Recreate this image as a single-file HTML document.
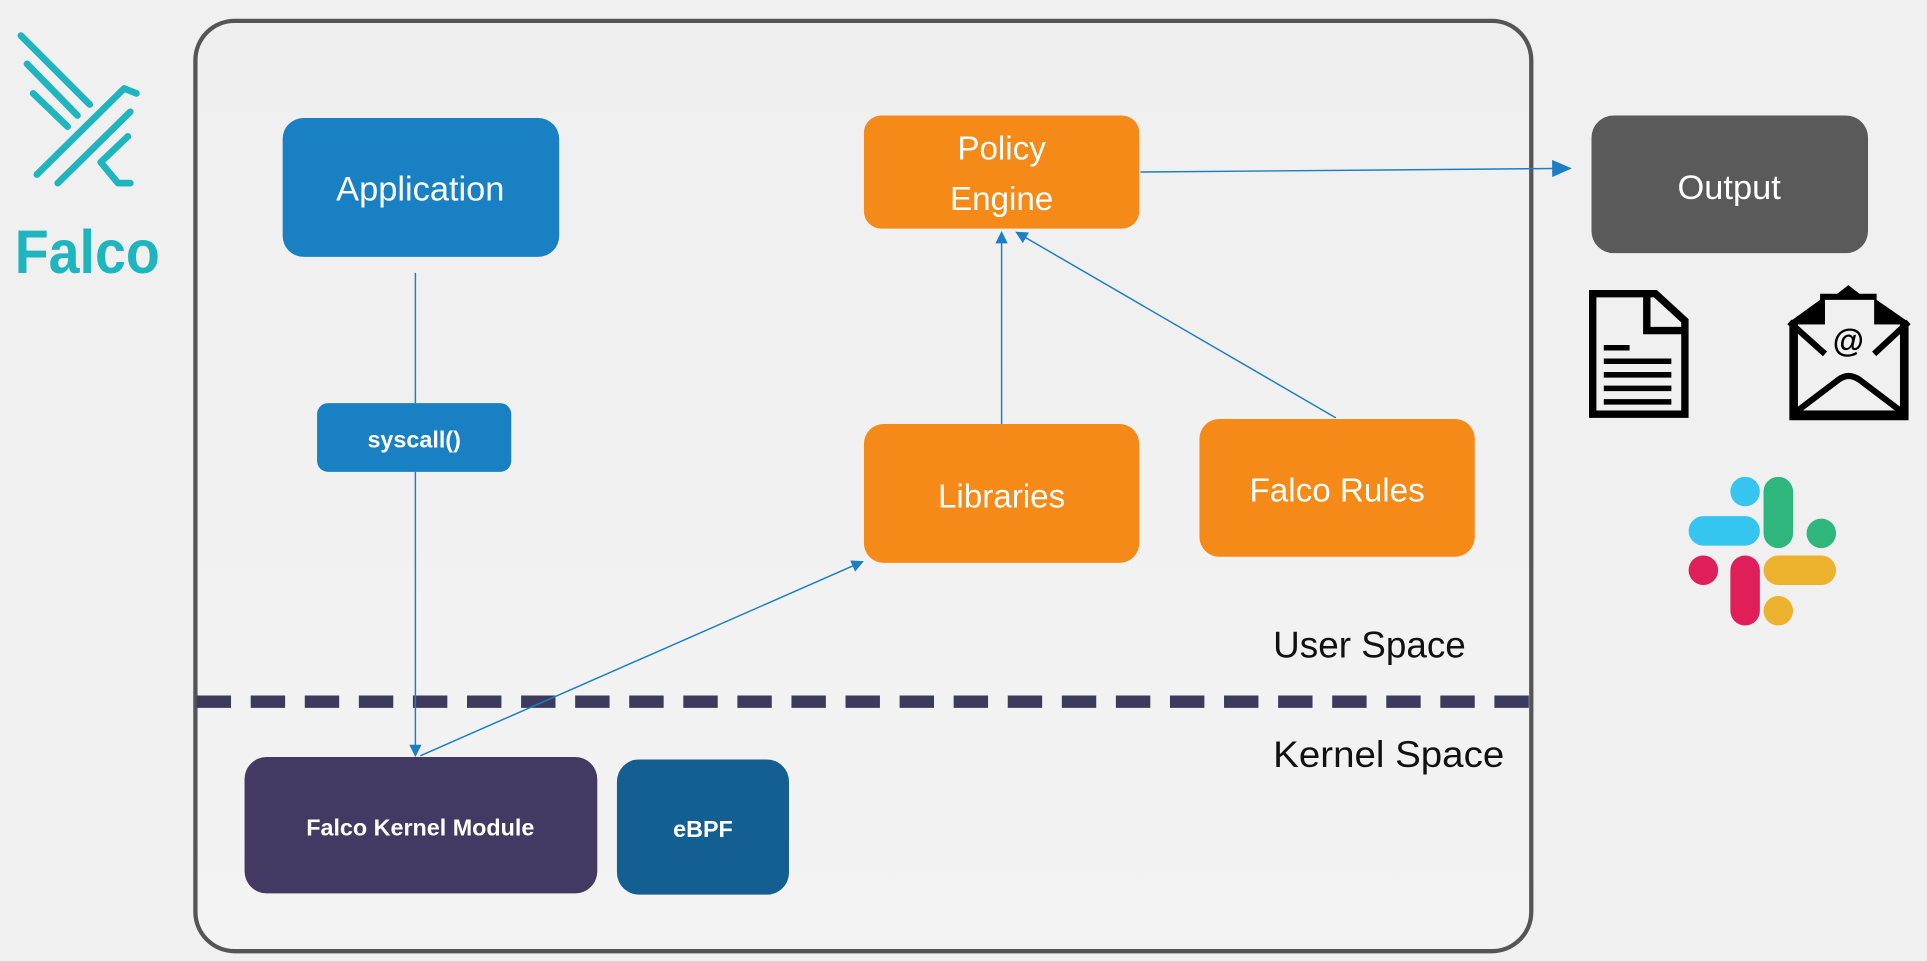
<!DOCTYPE html>
<html><head><meta charset="utf-8"><style>
html,body{margin:0;padding:0;background:#f0f0f0;}
svg{display:block;}
text{font-family:"Liberation Sans",sans-serif;}
</style></head><body>
<svg width="1927" height="961" viewBox="0 0 1568 782" preserveAspectRatio="none" xmlns="http://www.w3.org/2000/svg">
<defs>
<linearGradient id="bg" x1="0" y1="0" x2="0" y2="1"><stop offset="0" stop-color="#efefef"/><stop offset="1" stop-color="#f3f3f3"/></linearGradient>
<marker id="ah" markerWidth="10" markerHeight="10" refX="9" refY="5" orient="auto" markerUnits="userSpaceOnUse"><path d="M0,0 L10,5 L0,10 z" fill="#1a7fc4"/></marker>
<marker id="ah2" markerWidth="16" markerHeight="14" refX="15" refY="7" orient="auto" markerUnits="userSpaceOnUse"><path d="M0,0 L16,7 L0,14 z" fill="#1a7fc4"/></marker>
</defs>
<rect width="1568" height="782" fill="#f0f0f0"/>
<!-- Falco logo -->
<g stroke="#1fb5bf" stroke-width="5.5" stroke-linecap="round" stroke-linejoin="round" fill="none">
<line x1="17" y1="29" x2="73" y2="85"/>
<line x1="22" y1="52" x2="63" y2="94"/>
<line x1="27" y1="76" x2="55" y2="103"/>
<path d="M30,142 L101,72 L111,76"/>
<line x1="47" y1="149" x2="106" y2="91"/>
<path d="M104,111 L82,132 L96,149 L106,149"/>
</g>
<text x="12" y="222" font-size="50" fill="#1fb5bf" textLength="118" lengthAdjust="spacingAndGlyphs" font-weight="bold">Falco</text>
<!-- outer box -->
<rect x="159" y="17" width="1087" height="757" rx="32" fill="url(#bg)" stroke="#555" stroke-width="3.5"/>
<!-- dashed -->
<line x1="160" y1="571" x2="1245" y2="571" stroke="#3e3a5e" stroke-width="10" stroke-dasharray="28,16"/>
<text x="1036" y="535" font-size="30" fill="#111">User Space</text>
<text x="1036" y="624" font-size="30" fill="#111" textLength="188" lengthAdjust="spacingAndGlyphs">Kernel Space</text>
<!-- connectors -->
<g stroke="#1a7fc4" stroke-width="1.2" fill="none">
<line x1="338" y1="222" x2="338" y2="328"/>
<line x1="338" y1="384" x2="338" y2="615" marker-end="url(#ah)"/>
<line x1="342" y1="615" x2="702" y2="457" marker-end="url(#ah)"/>
<line x1="815" y1="345" x2="815" y2="189" marker-end="url(#ah)"/>
<line x1="1087" y1="340" x2="827" y2="189" marker-end="url(#ah)"/>
<line x1="928" y1="140" x2="1278" y2="137" marker-end="url(#ah2)"/>
</g>
<!-- boxes -->
<rect x="230" y="96" width="225" height="113" rx="17" fill="#1a80c4"/>
<text x="342" y="163" font-size="28" fill="#fff" text-anchor="middle">Application</text>
<rect x="258" y="328" width="158" height="56" rx="9" fill="#1a80c4"/>
<text x="337" y="364" font-size="19" font-weight="bold" fill="#fff" text-anchor="middle">syscall()</text>
<rect x="199" y="616" width="287" height="111" rx="18" fill="#433a63"/>
<text x="342" y="680" font-size="19" font-weight="bold" fill="#fff" text-anchor="middle">Falco Kernel Module</text>
<rect x="502" y="618" width="140" height="110" rx="18" fill="#135f91"/>
<text x="572" y="681" font-size="19" font-weight="bold" fill="#fff" text-anchor="middle">eBPF</text>
<rect x="703" y="94" width="224" height="92" rx="14" fill="#f58a18"/>
<text x="815" y="130" font-size="27" fill="#fff" text-anchor="middle">Policy</text>
<text x="815" y="171" font-size="27" fill="#fff" text-anchor="middle">Engine</text>
<rect x="703" y="345" width="224" height="113" rx="16" fill="#f58a18"/>
<text x="815" y="413" font-size="27" fill="#fff" text-anchor="middle">Libraries</text>
<rect x="976" y="341" width="224" height="112" rx="16" fill="#f58a18"/>
<text x="1088" y="408" font-size="27" fill="#fff" text-anchor="middle">Falco Rules</text>
<rect x="1295" y="94" width="225" height="112" rx="18" fill="#5a5a5a"/>
<text x="1407" y="162" font-size="28" fill="#fff" text-anchor="middle">Output</text>
<!-- doc icon -->
<path d="M1296,239 L1347,239 L1371,261 L1371,337 L1296,337 Z" fill="none" stroke="#000" stroke-width="6"/>
<path d="M1340,239 L1340,269 L1371,269" fill="none" stroke="#000" stroke-width="6"/>
<g stroke="#000" stroke-width="4.5"><line x1="1305" y1="283" x2="1326" y2="283"/><line x1="1305" y1="294" x2="1360" y2="294"/><line x1="1305" y1="305" x2="1360" y2="305"/><line x1="1305" y1="316" x2="1360" y2="316"/><line x1="1305" y1="327" x2="1360" y2="327"/></g>
<!-- envelope -->
<path d="M1456,262 L1481,244 L1481,239 L1495,239 L1504,232 L1513,239 L1527,239 L1527,244 L1553,262 L1553,342 L1456,342 Z" fill="#000"/>
<rect x="1463" y="264" width="83" height="70" fill="#f0f0f0"/>
<rect x="1485" y="244" width="40" height="50" fill="#f0f0f0"/>
<path d="M1456,262 L1485,288 M1553,262 L1525,288" stroke="#000" stroke-width="5"/>
<path d="M1463,334 L1496,309 Q1504,303 1513,309 L1546,334" fill="none" stroke="#000" stroke-width="5"/>
<text x="1504" y="286" font-size="26" font-weight="bold" text-anchor="middle" fill="#000">@</text>
<!-- slack -->
<g stroke-linecap="round" stroke-width="24" fill="none">
<line x1="1386" y1="432" x2="1420" y2="432" stroke="#36c5f0"/>
<line x1="1420" y1="400" x2="1420" y2="400" stroke="#36c5f0"/>
<line x1="1447" y1="400" x2="1447" y2="434" stroke="#2eb67d"/>
<line x1="1482" y1="434" x2="1482" y2="434" stroke="#2eb67d"/>
<line x1="1447" y1="464" x2="1482" y2="464" stroke="#ecb22e"/>
<line x1="1447" y1="497" x2="1447" y2="497" stroke="#ecb22e"/>
<line x1="1420" y1="464" x2="1420" y2="497" stroke="#e01e5a"/>
<line x1="1386" y1="464" x2="1386" y2="464" stroke="#e01e5a"/>
</g>
</svg>
</body></html>
